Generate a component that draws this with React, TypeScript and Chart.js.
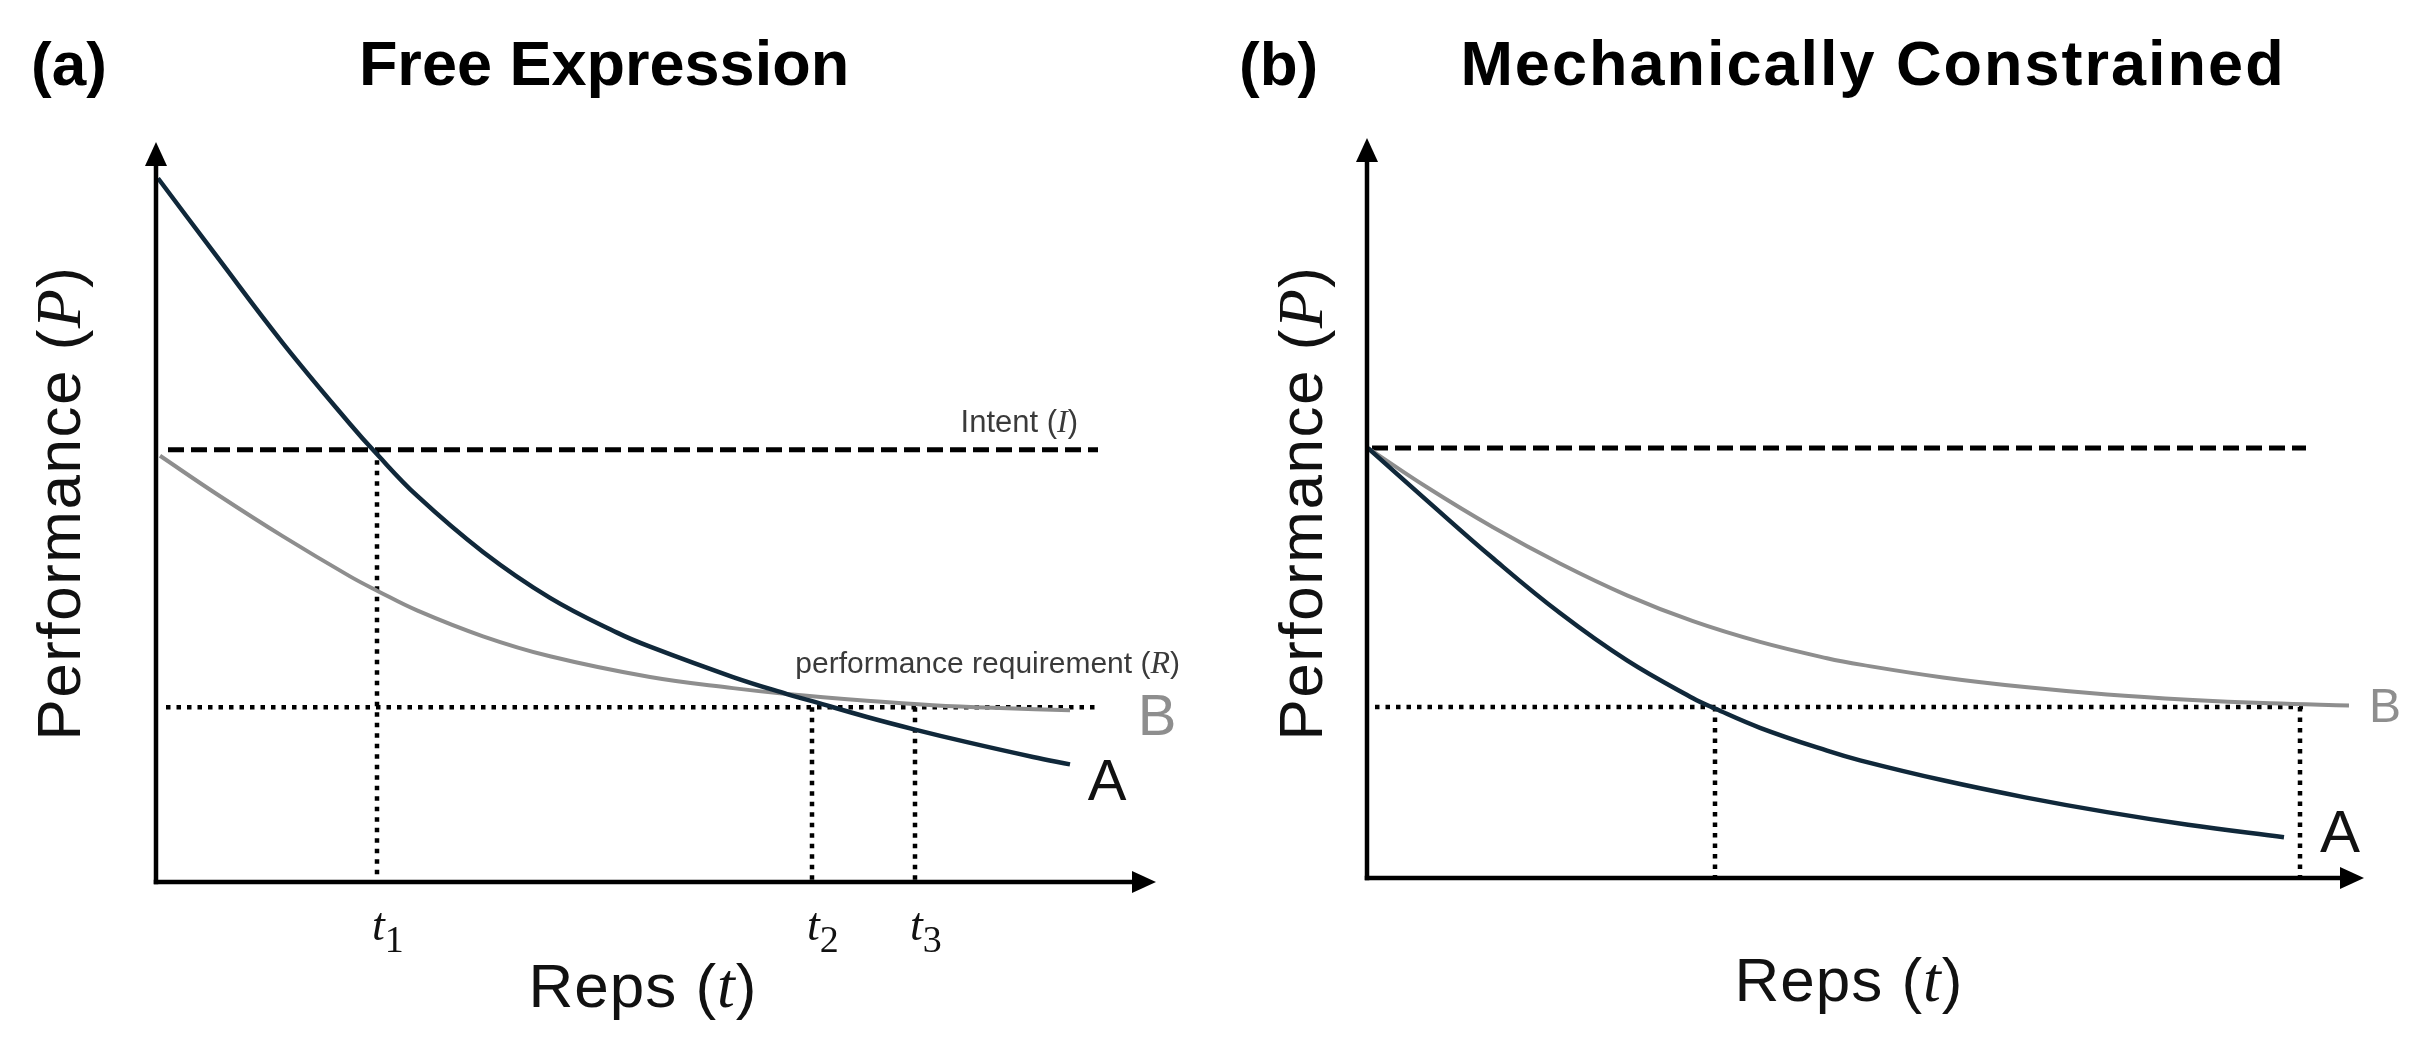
import React, { useEffect, useRef } from "react";
import { Chart, registerables } from "chart.js";

Chart.register(...registerables);

// ---------------- DATA: panel (a) Free Expression ----------------
const freeA_t = [0.02, 0.61, 1.27, 1.94, 2.19, 2.61, 3.27, 3.94, 4.61, 4.94, 5.77, 6.31, 6.57, 7.11, 7.59, 8.11, 8.77, 9.14];
const freeA_P = [9.51, 8.45, 7.28, 6.19, 5.81, 5.22, 4.46, 3.84, 3.37, 3.18, 2.77, 2.54, 2.44, 2.23, 2.06, 1.89, 1.69, 1.59];
const freeB_t = [0.04, 0.61, 1.27, 1.94, 2.22, 2.61, 3.27, 3.94, 4.94, 5.77, 6.31, 7.11, 7.77, 8.44, 9.14];
const freeB_P = [5.76, 5.24, 4.67, 4.13, 3.93, 3.67, 3.32, 3.05, 2.77, 2.62, 2.54, 2.45, 2.39, 2.35, 2.32];
const freeIntentLevel = 5.84;
const freeIntentSpan = [0.12, 9.42];
const freeReqLevel = 2.36;
const freeReqSpan = [0.1, 9.42];
const freeMarkers = [2.21, 6.56, 7.59];
const freeMarkerTops = [5.84, 2.36, 2.36];
const freeMarkerSubs = ["1", "2", "3"];

// ---------------- DATA: panel (b) Mechanically Constrained ----------------
const consA_t = [0.01, 0.6, 1.26, 1.93, 2.6, 3.26, 3.48, 3.93, 4.6, 4.93, 5.76, 6.58, 7.4, 8.21, 9.17];
const consA_P = [5.81, 5.1, 4.32, 3.58, 2.94, 2.43, 2.29, 2.03, 1.72, 1.59, 1.32, 1.09, 0.89, 0.72, 0.55];
const consB_t = [0.01, 0.6, 1.26, 1.93, 2.6, 3.26, 3.93, 4.6, 4.95, 5.76, 6.58, 7.4, 8.21, 9.03, 9.82];
const consB_P = [5.81, 5.28, 4.74, 4.25, 3.82, 3.47, 3.19, 2.97, 2.88, 2.71, 2.58, 2.48, 2.41, 2.36, 2.33];
const consIntentLevel = 5.81;
const consIntentSpan = [0.05, 9.39];
const consReqLevel = 2.31;
const consReqSpan = [0.08, 9.36];
const consMarkers = [3.48, 9.33];
const consMarkerTops = [2.31, 2.31];

// ---------------- STYLE ----------------
const COLOR_A = "#10283a";
const COLOR_B = "#8e8e8e";
const SANS = '"Liberation Sans", Arial, sans-serif';
const SERIF = '"Liberation Serif", "Times New Roman", serif';

type Part = { t: string; f: string; dy?: number };

function drawParts(ctx: CanvasRenderingContext2D, parts: Part[], x: number, y: number, align: "left" | "center" | "right", spacing = 0) {
  (ctx as any).letterSpacing = spacing + "px";
  let total = 0;
  const ws = parts.map((p) => {
    ctx.font = p.f;
    const w = ctx.measureText(p.t).width;
    total += w;
    return w;
  });
  let cx = align === "left" ? x : align === "center" ? x - total / 2 : x - total;
  ctx.textAlign = "left";
  ctx.textBaseline = "alphabetic";
  parts.forEach((p, i) => {
    ctx.font = p.f;
    ctx.fillText(p.t, cx, y + (p.dy || 0));
    cx += ws[i];
  });
  (ctx as any).letterSpacing = "0px";
}

const pts = (xs: number[], ys: number[]) => xs.map((x, i) => ({ x, y: ys[i] }));

type PanelCfg = {
  letter: string;
  title: string;
  titleSpacing: number;
  letterX: number;
  titleX: number;
  yTitleX: number;
  yTitleY: number;
  xTitleX: number;
  xTitleY: number;
  aT: number[];
  aP: number[];
  bT: number[];
  bP: number[];
  intentLevel: number;
  intentSpan: number[];
  reqLevel: number;
  reqSpan: number[];
  markers: number[];
  markerTops: number[];
  markerSubs: string[] | null;
  showLineTexts: boolean;
  aLabelOff: [number, number];
  bLabelOff: [number, number];
  aLabelSize: number;
  bLabelSize: number;
  xMax: number;
  padding: { left: number; right: number; top: number; bottom: number };
};

function buildDatasets(p: PanelCfg) {
  const ds: any[] = [];
  ds.push({ label: "A", data: pts(p.aT, p.aP), borderColor: COLOR_A, borderWidth: 4.5, tension: 0.4, order: 0 });
  ds.push({ label: "B", data: pts(p.bT, p.bP), borderColor: COLOR_B, borderWidth: 4, tension: 0.4, order: 1 });
  ds.push({
    label: "Intent",
    data: [{ x: p.intentSpan[0], y: p.intentLevel }, { x: p.intentSpan[1], y: p.intentLevel }],
    borderColor: "#000",
    borderWidth: 5,
    borderDash: [16, 7],
    order: 2,
  });
  ds.push({
    label: "Requirement",
    data: [{ x: p.reqSpan[0], y: p.reqLevel }, { x: p.reqSpan[1], y: p.reqLevel }],
    borderColor: "#000",
    borderWidth: 4.5,
    borderDash: [4.5, 6],
    order: 3,
  });
  p.markers.forEach((m, i) => {
    ds.push({
      label: "marker" + i,
      data: [{ x: m, y: p.markerTops[i] }, { x: m, y: 0 }],
      borderColor: "#000",
      borderWidth: 4.5,
      borderDash: [4.5, 6],
      order: 4,
    });
  });
  return ds.map((d) => ({ ...d, pointRadius: 0, fill: false, clip: false }));
}

function makeDecor(p: PanelCfg) {
  return {
    id: "decor",
    afterDatasetsDraw(chart: any) {
      const { ctx, scales } = chart;
      const xs = scales.x;
      const ys = scales.y;
      const X = (v: number) => xs.getPixelForValue(v);
      const Y = (v: number) => ys.getPixelForValue(v);
      ctx.save();
      // axes with arrows
      const x0 = X(0);
      const y0 = Y(0);
      const xt = X(xs.max);
      const yt = Y(ys.max);
      const AL = 24;
      const AW = 11;
      ctx.setLineDash([]);
      ctx.strokeStyle = "#000";
      ctx.fillStyle = "#000";
      ctx.lineWidth = 4.5;
      ctx.beginPath();
      ctx.moveTo(x0, y0 + 2.25);
      ctx.lineTo(x0, yt + AL - 2);
      ctx.stroke();
      ctx.beginPath();
      ctx.moveTo(x0 - 2.25, y0);
      ctx.lineTo(xt - AL + 2, y0);
      ctx.stroke();
      ctx.beginPath();
      ctx.moveTo(x0, yt);
      ctx.lineTo(x0 - AW, yt + AL);
      ctx.lineTo(x0 + AW, yt + AL);
      ctx.closePath();
      ctx.fill();
      ctx.beginPath();
      ctx.moveTo(xt, y0);
      ctx.lineTo(xt - AL, y0 - AW);
      ctx.lineTo(xt - AL, y0 + AW);
      ctx.closePath();
      ctx.fill();

      // titles
      ctx.fillStyle = "#000";
      drawParts(ctx, [{ t: p.letter, f: `bold 62px ${SANS}` }], p.letterX, 85, "left");
      drawParts(ctx, [{ t: p.title, f: `bold 63px ${SANS}` }], p.titleX, 85, "center", p.titleSpacing);

      // axis titles
      ctx.fillStyle = "#111";
      ctx.save();
      ctx.translate(p.yTitleX, p.yTitleY);
      ctx.rotate(-Math.PI / 2);
      drawParts(
        ctx,
        [
          { t: "Performance (", f: `62px ${SANS}` },
          { t: "P", f: `italic 64px ${SERIF}` },
          { t: ")", f: `62px ${SANS}` },
        ],
        0,
        0,
        "center",
        1.5
      );
      ctx.restore();
      drawParts(
        ctx,
        [
          { t: "Reps (", f: `62px ${SANS}` },
          { t: "t", f: `italic 64px ${SERIF}` },
          { t: ")", f: `62px ${SANS}` },
        ],
        p.xTitleX,
        p.xTitleY,
        "center",
        1
      );

      // marker labels t1, t2, t3
      if (p.markerSubs) {
        p.markers.forEach((m, i) => {
          drawParts(
            ctx,
            [
              { t: "t", f: `italic 46px ${SERIF}` },
              { t: p.markerSubs![i], f: `38px ${SERIF}`, dy: 12 },
            ],
            X(m) - 5,
            y0 + 58,
            "left"
          );
        });
      }

      // line annotations
      if (p.showLineTexts) {
        ctx.fillStyle = "#3a3a3a";
        drawParts(
          ctx,
          [
            { t: "Intent (", f: `31px ${SANS}` },
            { t: "I", f: `italic 32px ${SERIF}` },
            { t: ")", f: `31px ${SANS}` },
          ],
          X(p.intentSpan[1]) - 20,
          Y(p.intentLevel) - 18,
          "right"
        );
        drawParts(
          ctx,
          [
            { t: "performance requirement (", f: `30px ${SANS}` },
            { t: "R", f: `italic 32px ${SERIF}` },
            { t: ")", f: `30px ${SANS}` },
          ],
          X(p.reqSpan[1]) + 82,
          Y(p.reqLevel) - 34,
          "right"
        );
      }

      // series labels
      const la = p.aT.length - 1;
      const lb = p.bT.length - 1;
      ctx.fillStyle = "#111";
      drawParts(ctx, [{ t: "A", f: `${p.aLabelSize}px ${SANS}` }], X(p.aT[la]) + p.aLabelOff[0], Y(p.aP[la]) + p.aLabelOff[1], "center");
      ctx.fillStyle = COLOR_B;
      drawParts(ctx, [{ t: "B", f: `${p.bLabelSize}px ${SANS}` }], X(p.bT[lb]) + p.bLabelOff[0], Y(p.bP[lb]) + p.bLabelOff[1], "center");
      ctx.restore();
    },
  };
}

const panelA: PanelCfg = {
  letter: "(a)",
  title: "Free Expression",
  titleSpacing: 0,
  letterX: 31,
  titleX: 604,
  yTitleX: 80,
  yTitleY: 503,
  xTitleX: 643,
  xTitleY: 1007,
  aT: freeA_t,
  aP: freeA_P,
  bT: freeB_t,
  bP: freeB_P,
  intentLevel: freeIntentLevel,
  intentSpan: freeIntentSpan,
  reqLevel: freeReqLevel,
  reqSpan: freeReqSpan,
  markers: freeMarkers,
  markerTops: freeMarkerTops,
  markerSubs: freeMarkerSubs,
  showLineTexts: true,
  aLabelOff: [37, 36],
  bLabelOff: [87, 25],
  aLabelSize: 58,
  bLabelSize: 58,
  xMax: 10,
  padding: { left: 156, right: 55, top: 142, bottom: 166 },
};

const panelB: PanelCfg = {
  letter: "(b)",
  title: "Mechanically Constrained",
  titleSpacing: 2,
  letterX: 28,
  titleX: 662,
  yTitleX: 111,
  yTitleY: 503,
  xTitleX: 638,
  xTitleY: 1001,
  aT: consA_t,
  aP: consA_P,
  bT: consB_t,
  bP: consB_P,
  intentLevel: consIntentLevel,
  intentSpan: consIntentSpan,
  reqLevel: consReqLevel,
  reqSpan: consReqSpan,
  markers: consMarkers,
  markerTops: consMarkerTops,
  markerSubs: null,
  showLineTexts: false,
  aLabelOff: [56, 15],
  bLabelOff: [36, 16],
  aLabelSize: 60,
  bLabelSize: 48,
  xMax: 9.97,
  padding: { left: 156, right: 59, top: 138, bottom: 170 },
};

function makeChart(canvas: HTMLCanvasElement, p: PanelCfg) {
  return new Chart(canvas, {
    type: "line",
    data: { datasets: buildDatasets(p) },
    options: {
      responsive: false,
      animation: false,
      events: [],
      layout: { padding: p.padding },
      plugins: { legend: { display: false }, tooltip: { enabled: false }, title: { display: false } },
      scales: {
        x: { type: "linear", min: 0, max: p.xMax, display: false },
        y: { type: "linear", min: 0, max: 10, display: false },
      },
    },
    plugins: [makeDecor(p)],
  } as any);
}

export default function App() {
  const refA = useRef<HTMLCanvasElement>(null);
  const refB = useRef<HTMLCanvasElement>(null);
  useEffect(() => {
    const c1 = makeChart(refA.current!, panelA);
    const c2 = makeChart(refB.current!, panelB);
    return () => {
      c1.destroy();
      c2.destroy();
    };
  }, []);
  return (
    <div style={{ position: "absolute", left: 0, top: 0, width: 2423, height: 1048, background: "#fff", overflow: "hidden" }}>
      <canvas ref={refA} width={1211} height={1048} style={{ position: "absolute", left: 0, top: 0, width: 1211, height: 1048 }} />
      <canvas ref={refB} width={1212} height={1048} style={{ position: "absolute", left: 1211, top: 0, width: 1212, height: 1048 }} />
    </div>
  );
}
